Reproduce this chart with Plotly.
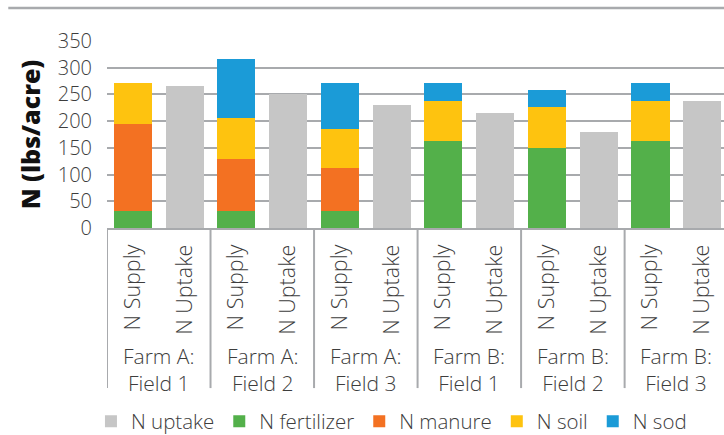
import plotly.graph_objects as go

# Fields and the two bars drawn for each one
fields = ["Farm A:<br>Field 1", "Farm A:<br>Field 2", "Farm A:<br>Field 3",
          "Farm B:<br>Field 1", "Farm B:<br>Field 2", "Farm B:<br>Field 3"]
bar_kinds = ["N Supply", "N Uptake"]

# N supply components per field (lbs/acre)
n_fertilizer = [32, 32, 32, 162, 150, 162]
n_manure = [162, 98, 81, 0, 0, 0]
n_soil = [78, 75, 73, 75, 76, 76]
n_sod = [0, 112, 85, 34, 33, 34]

# Crop N uptake per field (lbs/acre)
n_uptake = [265, 250, 230, 216, 179, 237]

y_ticks = [0, 50, 100, 150, 200, 250, 300, 350]

n_fields = len(fields)
n_kinds = len(bar_kinds)
supply_x = [i * n_kinds for i in range(n_fields)]
uptake_x = [i * n_kinds + 1 for i in range(n_fields)]
tick_x = list(range(n_fields * n_kinds))
tick_text = bar_kinds * n_fields

FONT = "Open Sans"
TEXT = "#3d3d3d"
GRID = "#a8aaad"

fig = go.Figure()
fig.add_bar(x=uptake_x, y=n_uptake, name="N uptake", marker_color="#c6c6c6")
fig.add_bar(x=supply_x, y=n_fertilizer, name="N fertilizer", marker_color="#53b04a")
fig.add_bar(x=supply_x, y=n_manure, name="N manure", marker_color="#f37122")
fig.add_bar(x=supply_x, y=n_soil, name="N soil", marker_color="#fec30f")
fig.add_bar(x=supply_x, y=n_sod, name="N sod", marker_color="#1b9bd7")
fig.update_traces(marker_line_width=0, hoverinfo="skip")

# Field group labels under the bar labels
for i, name in enumerate(fields):
    fig.add_annotation(x=i * n_kinds + 0.5, xref="x", y=-0.755, yref="paper",
                       text=name, showarrow=False, yanchor="middle",
                       font=dict(family=FONT, size=21, color=TEXT, weight=300))

# Vertical dividers between field groups
for i in range(n_fields + 1):
    fig.add_shape(type="line", xref="x", yref="paper",
                  x0=i * n_kinds - 0.5, x1=i * n_kinds - 0.5, y0=0, y1=-0.856,
                  line=dict(color=GRID, width=2))

# Rule across the top of the figure
fig.add_shape(type="line", xref="paper", yref="paper",
              x0=-0.16, x1=1.0, y0=1.176, y1=1.176,
              line=dict(color=GRID, width=2.5))

fig.update_layout(
    width=724, height=435,
    margin=dict(l=107, r=0, t=41, b=207, autoexpand=False),
    barmode="stack", bargap=0.265,
    plot_bgcolor="white", paper_bgcolor="white",
    font=dict(family=FONT, color=TEXT, weight=300),
    showlegend=True,
    legend=dict(orientation="h", x=-0.026, xanchor="left", y=-1.035, yanchor="middle",
                font=dict(family=FONT, size=20.5, color=TEXT, weight=300),
                itemwidth=30, tracegroupgap=0,
                traceorder="normal", itemclick=False, itemdoubleclick=False),
    xaxis=dict(range=[-0.5, 11.42], tickmode="array", tickvals=tick_x, ticktext=tick_text,
               tickangle=-90, tickfont=dict(family=FONT, size=21.5, color=TEXT, weight=300),
               showgrid=False, zeroline=False, showline=True, linecolor=GRID, linewidth=2,
               ticks="", ticklabelstandoff=6, automargin=False),
    yaxis=dict(range=[0, 350], tickmode="array", tickvals=y_ticks,
               tickfont=dict(family=FONT, size=20, color=TEXT, weight=300),
               showgrid=True, gridcolor=GRID, gridwidth=2, zeroline=False,
               showline=False, ticks="", ticklabelstandoff=14, automargin=False,
               title=dict(text="N (lbs/acre)", standoff=10,
                          font=dict(family=FONT, size=25, color="#111111", weight=800))),
)

fig.write_html("out.html")
